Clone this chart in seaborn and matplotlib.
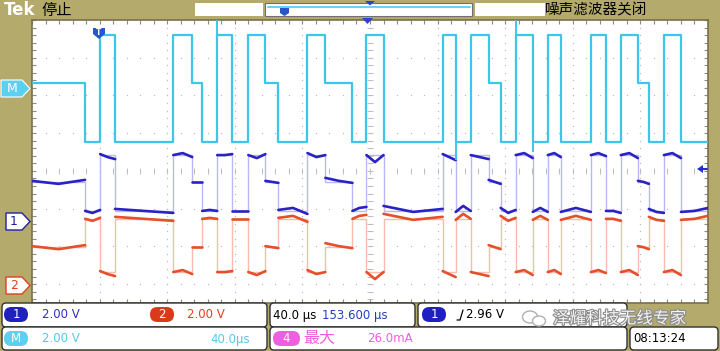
import matplotlib

matplotlib.use("Agg")
from matplotlib import pyplot as plt
from matplotlib.patches import FancyBboxPatch, Polygon, Rectangle, Ellipse
import matplotlib.patheffects as pe
import numpy as np
import pandas as pd
import seaborn as sns

# bus state changes, time in us from the left edge of the screen (40 us/div)
edge_t = [0.0, 31.4, 40.3, 49.2, 83.6, 94.8, 100.7, 109.6, 118.5, 128.0, 138.1,
          145.8, 163.0, 173.6, 189.6, 197.9, 208.0, 243.0, 250.7, 259.6, 270.2,
          277.3, 286.2, 296.3, 305.2, 312.9, 330.7, 339.6, 348.4, 358.5, 365.0,
          373.9, 384.0]
states = ["M", "L", "H", "L", "H", "M", "L", "H", "L", "H", "M",
          "L", "H", "M", "L", "H", "L", "H", "L", "H", "M",
          "L", "H", "L", "H", "L", "H", "L", "H", "M", "L",
          "H", "L"]
end_t = 400.0

# trace level per state, in divisions from screen centre
math_level = {"H": 3.61, "M": 2.33, "L": 0.77}
ch1_level = {"H": 0.42, "M": -0.29, "L": -1.06}
ch2_level = {"H": -2.68, "M": -2.02, "L": -1.27}

# ringing on ch1/ch2 per segment (start, middle, end), screen pixels, + is downward
ripple_px = [(-1, 2, -2), (0, 2, -1), (-1, 2, 4), (-2, 0, 2), (0, -2, 2), (0, 0, 0),
             (0, -1, 0), (0, 0, -1), (0, 0, 0), (0, 3, -1), (-1, 0, 1), (-1, -3, 3),
             (-2, 2, 0), (-4, -1, 1), (0, -3, -4), (0, 7, 0), (-5, 1, -2), (-1, 2, 5),
             (1, -5, 0), (0, 2, 4), (-2, 0, 2), (-3, 2, -1), (0, -2, 3), (1, -3, 1),
             (0, -2, 2), (1, -3, 1), (0, -2, 1), (0, 0, 2), (0, -2, 3), (-1, 0, 2),
             (-2, 1, 2), (0, -2, 3), (1, 0, -3)]
PX_PER_DIV = 37.7

# glitches on the math trace
spike_t = [109.6, 250.7, 286.2, 296.3]
spike_y = [4.0, 0.29, 4.0, 0.50]
spike_state = ["H", "L", "H", "L"]

OLIVE = "#b4aa6b"
CYAN = "#3cc6ea"
BLUE = "#2a22c4"
BLUE_EDGE = "#bcb8f4"
RED = "#e4502c"
RED_EDGE = "#f7bcac"
MAGENTA = "#ee5ee0"
GRID = "#bdbdbd"


def step_frame(levels):
    t, v = [], []
    for i, s in enumerate(states):
        t1 = edge_t[i + 1] if i + 1 < len(edge_t) else end_t
        t += [edge_t[i], t1]
        v += [levels[s], levels[s]]
    return pd.DataFrame({"t": t, "v": v})


def level_frame(levels):
    rows = []
    t1s = edge_t[1:] + [end_t]
    for i, s in enumerate(states):
        t0, t1 = edge_t[i], t1s[i]
        for tt, r in zip([t0, (t0 + t1) / 2, t1], ripple_px[i]):
            rows.append((i, tt, levels[s] - r / PX_PER_DIV))
    return pd.DataFrame(rows, columns=["seg", "t", "v"])


sns.set_theme(style="white")
plt.rcParams["font.family"] = ["DejaVu Sans", "Noto Sans CJK SC"]
CJK = ["Noto Sans CJK SC", "DejaVu Sans"]

fig = plt.figure(figsize=(7.2, 3.51), dpi=100, facecolor=OLIVE)
ax = fig.add_axes([32 / 720, 1 - 303 / 351, 676 / 720, 283 / 351])
ax.set_facecolor("white")
ax.set_xlim(0, end_t)
ax.set_ylim(-3.5, 4.0)

# graticule
hx = np.arange(0, end_t + 0.1, 8)
for gy in range(-3, 4):
    ax.plot(hx, [gy] * len(hx), ls="none", marker="o", ms=1.0, mew=0, color=GRID, zorder=1)
vy = np.arange(-3.4, 4.0, 0.2)
for gx in np.arange(40, end_t, 40):
    ax.plot([gx] * len(vy), vy, ls="none", marker="o", ms=1.0, mew=0, color=GRID, zorder=1)
ax.plot([200] * len(vy), vy, ls="none", marker="_", ms=4, mew=0.7, color=GRID, zorder=1)
ax.plot(hx, [0] * len(hx), ls="none", marker="|", ms=4, mew=0.7, color=GRID, zorder=1)

ax.set_xticks(np.arange(0, end_t + 0.1, 8))
ax.set_yticks(np.arange(-3.4, 4.01, 0.2))
ax.set_xticklabels([])
ax.set_yticklabels([])
ax.tick_params(direction="in", length=3, width=0.8, color="#8a8a8a",
               top=True, right=True, bottom=True, left=True)
for sp in ax.spines.values():
    sp.set_color("#7a7048")
    sp.set_linewidth(1.2)
ax.grid(False)

# channel 2 and channel 1: faint edges, solid levels
for levels, light, dark in [(ch2_level, RED_EDGE, RED), (ch1_level, BLUE_EDGE, BLUE)]:
    sns.lineplot(data=step_frame(levels), x="t", y="v", sort=False, estimator=None,
                 color=light, lw=1.0, ax=ax, zorder=2)
    sns.lineplot(data=level_frame(levels), x="t", y="v", units="seg", sort=False,
                 estimator=None, color=dark, lw=1.9, ax=ax, zorder=3,
                 solid_capstyle="round", solid_joinstyle="round")

# math trace
sns.lineplot(data=step_frame(math_level), x="t", y="v", sort=False, estimator=None,
             color=CYAN, lw=1.6, ax=ax, zorder=4)
ax.vlines(spike_t, spike_y, [math_level[s] for s in spike_state], color=CYAN, lw=1.4, zorder=4)
ax.set_xlabel("")
ax.set_ylabel("")

# overlay in pixel coordinates for the scope furniture
ov = fig.add_axes([0, 0, 1, 1], zorder=5)
ov.set_xlim(0, 720)
ov.set_ylim(351, 0)
ov.axis("off")
ov.patch.set_alpha(0)

# top status bar
ov.text(4, 10, "Tek", color="white", fontsize=12, fontweight="bold", va="center")
ov.text(42, 10, "停止", color="black", fontsize=11, va="center", family=CJK)
ov.add_patch(Rectangle((195, 3), 68, 13, fc="white", ec="none"))
ov.add_patch(Rectangle((265, 3), 207, 13, fc="white", ec="#707070", lw=0.8))
ov.plot([268, 470], [6.5, 6.5], color="#6cd2f2", lw=1.5)
ov.add_patch(Polygon([(280, 8), (289, 8), (289, 13), (284.5, 16), (280, 13)], fc="#2855c8", ec="none"))
ov.add_patch(Polygon([(365, 1), (375, 1), (370, 5.5)], fc="#2848c8", ec="none"))
ov.add_patch(Rectangle((475, 3), 70, 13, fc="white", ec="none"))
ov.text(545, 10, "噪声滤波器关闭", color="black", fontsize=10.5, va="center", family=CJK)

# markers on the screen
ov.add_patch(Polygon([(362, 18), (373, 18), (367.5, 24)], fc="#2848c8", ec="none"))
ov.add_patch(Polygon([(93, 28), (105, 28), (105, 34), (99, 39), (93, 34)], fc="#2858c8", ec="none"))
ov.text(99, 32.5, "T", color="white", fontsize=5.5, ha="center", va="center", fontweight="bold")
ov.add_patch(Polygon([(697, 169), (703, 165), (703, 173)], fc="#2030d0", ec="none"))
ov.plot([702, 707], [169, 169], color="#2030d0", lw=1.5)

# left channel labels
ov.add_patch(Polygon([(1, 80), (22, 80), (30, 88.5), (22, 97), (1, 97)], fc="#5cd0f0", ec="white", lw=0.8))
ov.text(12, 88.5, "M", color="white", fontsize=9, ha="center", va="center")
ov.add_patch(Polygon([(6, 213), (22, 213), (30, 221.5), (22, 230), (6, 230)], fc="white", ec="#2020a0", lw=1))
ov.text(14, 221.5, "1", color="#2020a0", fontsize=9, ha="center", va="center")
ov.add_patch(Polygon([(6, 277), (22, 277), (30, 285.5), (22, 294), (6, 294)], fc="white", ec="#e04020", lw=1))
ov.text(14, 285.5, "2", color="#e04020", fontsize=9, ha="center", va="center")


def panel(x0, y0, x1, y1):
    ov.add_patch(FancyBboxPatch((x0, y0), x1 - x0, y1 - y0, boxstyle="round,pad=0,rounding_size=4",
                                fc="white", ec="#303030", lw=1))


def pill(x0, y0, w, h, color, label):
    ov.add_patch(FancyBboxPatch((x0, y0), w, h, boxstyle=f"round,pad=0,rounding_size={h / 2}",
                                fc=color, ec="none"))
    ov.text(x0 + w / 2, y0 + h / 2 + 0.5, label, color="white", fontsize=8.5, ha="center", va="center")


# bottom readouts
panel(2, 303, 267, 327)
panel(270, 303, 415, 327)
panel(418, 303, 627, 327)
panel(2, 327, 267, 350)
panel(270, 327, 627, 350)
panel(630, 327, 718, 350)

pill(4, 307, 24, 15, "#2020c0", "1")
ov.text(42, 315, "2.00 V", color="#3030c0", fontsize=8.5, va="center")
pill(150, 307, 24, 15, "#d83a1a", "2")
ov.text(187, 315, "2.00 V", color="#e04020", fontsize=8.5, va="center")
ov.text(273, 315, "40.0 µs", color="black", fontsize=8.5, va="center")
ov.text(322, 315, "153.600 µs", color="#2040c0", fontsize=8.5, va="center")
pill(422, 307, 24, 15, "#2020c0", "1")
ov.plot([457, 460, 463], [320, 320, 310], color="black", lw=0.9)
ov.text(466, 315, "2.96 V", color="black", fontsize=8.5, va="center")

pill(4, 331, 24, 15, "#5cd0f0", "M")
ov.text(42, 339, "2.00 V", color="#58c8e8", fontsize=8.5, va="center")
ov.text(210, 339, "40.0µs", color="#58c8e8", fontsize=8.5, va="center")
pill(273, 331, 27, 15, MAGENTA, "4")
ov.text(303, 338.5, "最大", color=MAGENTA, fontsize=11.5, va="center", family=CJK)
ov.text(367, 339, "26.0mA", color=MAGENTA, fontsize=8.5, va="center")
ov.text(633, 339, "08:13:24", color="black", fontsize=8.5, va="center")

# watermark
ov.add_patch(Ellipse((530, 317), 15, 12, fc="none", ec="#b0b0b0", lw=1))
ov.add_patch(Ellipse((539, 321), 13, 10, fc="white", ec="#b0b0b0", lw=1))
ov.text(553, 319, "泽耀科技无线专家", color="#f4f4f4", fontsize=12, va="center", family=CJK,
        path_effects=[pe.withStroke(linewidth=1.6, foreground="#8c8c8c")])

fig.savefig("out.png", dpi=100, facecolor=OLIVE)
